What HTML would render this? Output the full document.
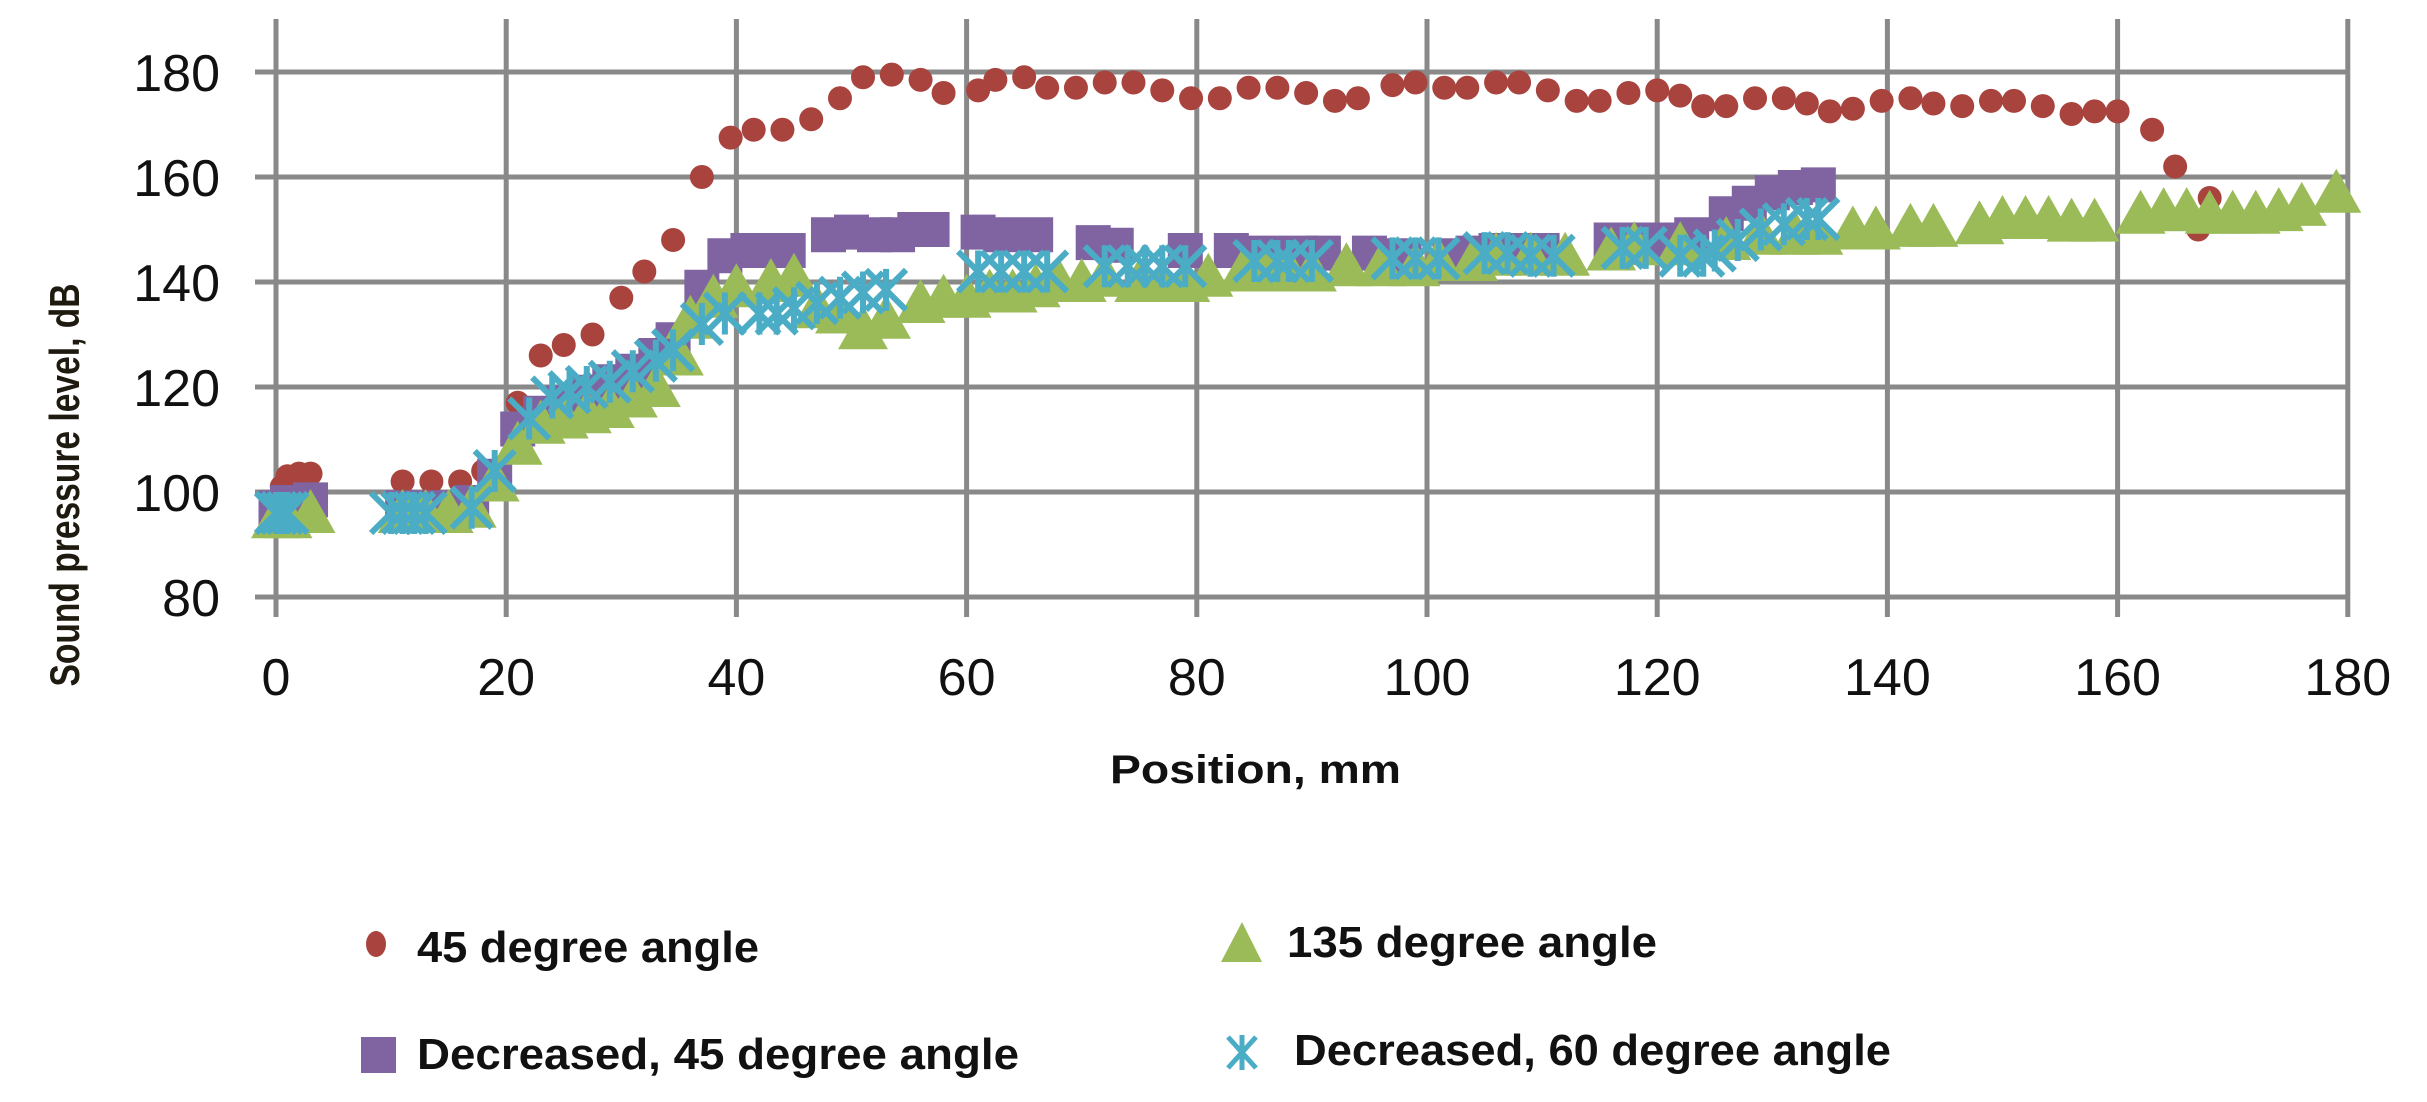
<!DOCTYPE html>
<html><head><meta charset="utf-8">
<style>html,body{margin:0;padding:0;background:#fff;}svg{display:block}</style>
</head><body>
<svg id="s" width="2427" height="1102" viewBox="0 0 2427 1102" xmlns="http://www.w3.org/2000/svg">
<rect width="2427" height="1102" fill="#fff"/>
<g id="grid" stroke="#898989" stroke-width="5"></g>
<g id="data"></g>
<g font-family="Liberation Sans, sans-serif" font-size="52" fill="#111" text-anchor="end" id="yl"></g>
<g font-family="Liberation Sans, sans-serif" font-size="52" fill="#111" text-anchor="middle" id="xl"></g>
<text x="0" y="0" transform="translate(79,485) rotate(-90)" text-anchor="middle" font-family="Liberation Sans, sans-serif" font-weight="bold" font-size="42" fill="#1f1a10" textLength="403" lengthAdjust="spacingAndGlyphs">Sound pressure level, dB</text>
<text x="1110" y="783" font-family="Liberation Sans, sans-serif" font-weight="bold" font-size="40" fill="#111" textLength="291" lengthAdjust="spacingAndGlyphs">Position, mm</text>
<g font-family="Liberation Sans, sans-serif" font-weight="bold" font-size="44" fill="#111">
<ellipse cx="376" cy="944" rx="10" ry="13" fill="#A9433E"/>
<text x="417" y="962" textLength="342" lengthAdjust="spacingAndGlyphs">45 degree angle</text>
<polygon points="1221,962 1262,962 1242,922" fill="#9BBB59"/>
<text x="1287" y="957" textLength="370" lengthAdjust="spacingAndGlyphs">135 degree angle</text>
<rect x="361" y="1037" width="35" height="36" fill="#8064A2"/>
<text x="417" y="1069" textLength="602" lengthAdjust="spacingAndGlyphs">Decreased, 45 degree angle</text>
<g stroke="#4BACC6" stroke-width="5"><line x1="1242" y1="1035" x2="1242" y2="1070"/><line x1="1228" y1="1037" x2="1256" y2="1068"/><line x1="1256" y1="1037" x2="1228" y2="1068"/></g>
<text x="1294" y="1065" textLength="597" lengthAdjust="spacingAndGlyphs">Decreased, 60 degree angle</text>
</g>
</svg>
<script>
var NS="http://www.w3.org/2000/svg";
function X(v){return 276+v*11.51;}
function Y(d){return 72+(180-d)*5.25;}
function el(p,t,a){var e=document.createElementNS(NS,t);for(var k in a)e.setAttribute(k,a[k]);p.appendChild(e);return e;}
var g=document.getElementById('grid');
for(var d=80;d<=180;d+=20){el(g,'line',{x1:255,x2:2347,y1:Y(d),y2:Y(d)});
 var t=el(document.getElementById('yl'),'text',{x:220,y:Y(d)+19});t.textContent=d;}
for(var v=0;v<=180;v+=20){el(g,'line',{x1:X(v),x2:X(v),y1:19,y2:617});
 var t=el(document.getElementById('xl'),'text',{x:X(v),y:695});t.textContent=v;}
var red=[[0.5,101],[1,103],[2,103.5],[3,103.5],[11,102],[13.5,102],[16,102],[18,104],[21,117],[23,126],[25,128],[27.5,130],[30,137],[32,142],[34.5,148],[37,160],[39.5,167.5],[41.5,169],[44,169],[46.5,171],[49,175],[51,179],[53.5,179.5],[56,178.5],[58,176],[61,176.5],[62.5,178.5],[65,179],[67,177],[69.5,177],[72,178],[74.5,178],[77,176.5],[79.5,175],[82,175],[84.5,177],[87,177],[89.5,176],[92,174.5],[94,175],[97,177.5],[99,178],[101.5,177],[103.5,177],[106,178],[108,178],[110.5,176.5],[113,174.5],[115,174.5],[117.5,176],[120,176.5],[122,175.5],[124,173.5],[126,173.5],[128.5,175],[131,175],[133,174],[135,172.5],[137,173],[139.5,174.5],[142,175],[144,174],[146.5,173.5],[149,174.5],[151,174.5],[153.5,173.5],[156,172],[158,172.5],[160,172.5],[163,169],[165,162],[167,150],[168,156]];
var pur=[[0,97],[1,98],[2,98],[3,98.5],[11,97],[13,97],[15,97],[17,98],[19,103],[21,112],[23,115],[25,117],[27,119],[29,121],[31,123],[33,126],[34.5,129],[37,139],[39,145],[41,146],[43,146],[44.5,146],[48,149],[50,149.5],[52,149],[54,149],[55.5,150],[57,150],[61,149.5],[63,149],[66,149],[71,147.5],[73,147],[79,146],[83,146],[86,145.5],[89,145.5],[91,145.5],[95,145.5],[98,145],[102,145],[104,145.5],[106,146],[108,146],[110,146],[116,148],[118,148],[121,148],[123,149],[126,153],[128,155],[130,157],[132,158],[134,158.5]];
var grn=[[0,95],[1,95],[3,96],[11,96],[13,96],[15,96],[17,97],[19,102],[21,109],[23,113],[25,114],[27,115],[29,116],[31,118],[33,120],[35,126],[36,133],[38,137],[40,139],[43,140],[45,141],[47,135],[49,134],[51,131],[53,133],[56,136],[58,137],[60,137],[62,138],[64,138],[66,139],[68,140],[70,140],[72,141],[75,140],[77,140],[79,140],[81,141],[84,142],[86,142],[88,142],[90,142],[93,143],[96,143],[99,143],[101,144],[104,144],[106,145],[109,145],[112,145],[116,146],[118,147],[122,147],[126,148],[129,149],[132,149],[134,149],[137,150],[139,150],[142,150.5],[144,150.5],[148,151],[150,152],[152,152],[154,152],[156,151.5],[158,151.5],[162,153],[164,153.5],[166,153.5],[168,153],[170,153],[172,153],[174,153.5],[176,154.5],[179,157]];
var cy=[[0,96],[0.5,96],[1,96],[10,96],[11,96],[12,96],[13,96],[17,97],[19,104],[22,114],[24,118],[25.5,119],[27,120],[29,121],[31,123],[33,125],[34.5,127],[37,132],[39,134],[42,134],[43.5,134],[45,135],[47,136],[49,137],[51,138],[53,138.5],[61,142],[63,142],[65,142],[67,142],[72,143],[74,143],[75.5,143],[77,143],[79,143],[85,144],[87,144],[88,144],[90,144],[97,144.5],[99,144.5],[101,144.5],[105,145.5],[107,145.5],[109,145],[111,145],[117,146.5],[119,146.5],[122,145],[124,145],[125,146],[127,148],[129,150],[131,151],[133,152],[134,152]];
var D=document.getElementById('data');
red.forEach(function(p){el(D,'ellipse',{cx:X(p[0]),cy:Y(p[1]),rx:12,ry:12,fill:'#A9433E'});});
pur.forEach(function(p){el(D,'rect',{x:X(p[0])-17.5,y:Y(p[1])-17.5,width:35,height:35,fill:'#8064A2'});});
grn.forEach(function(p){var x=X(p[0]),y=Y(p[1]);el(D,'polygon',{points:(x-25)+','+(y+20)+' '+(x+25)+','+(y+20)+' '+x+','+(y-24),fill:'#9BBB59'});});
cy.forEach(function(p){var x=X(p[0]),y=Y(p[1]);var gg=el(D,'g',{stroke:'#4BACC6','stroke-width':6});
 el(gg,'line',{x1:x,y1:y-21,x2:x,y2:y+21});el(gg,'line',{x1:x-20,y1:y-20,x2:x+20,y2:y+20});el(gg,'line',{x1:x+20,y1:y-20,x2:x-20,y2:y+20});});
</script>
</body></html>
